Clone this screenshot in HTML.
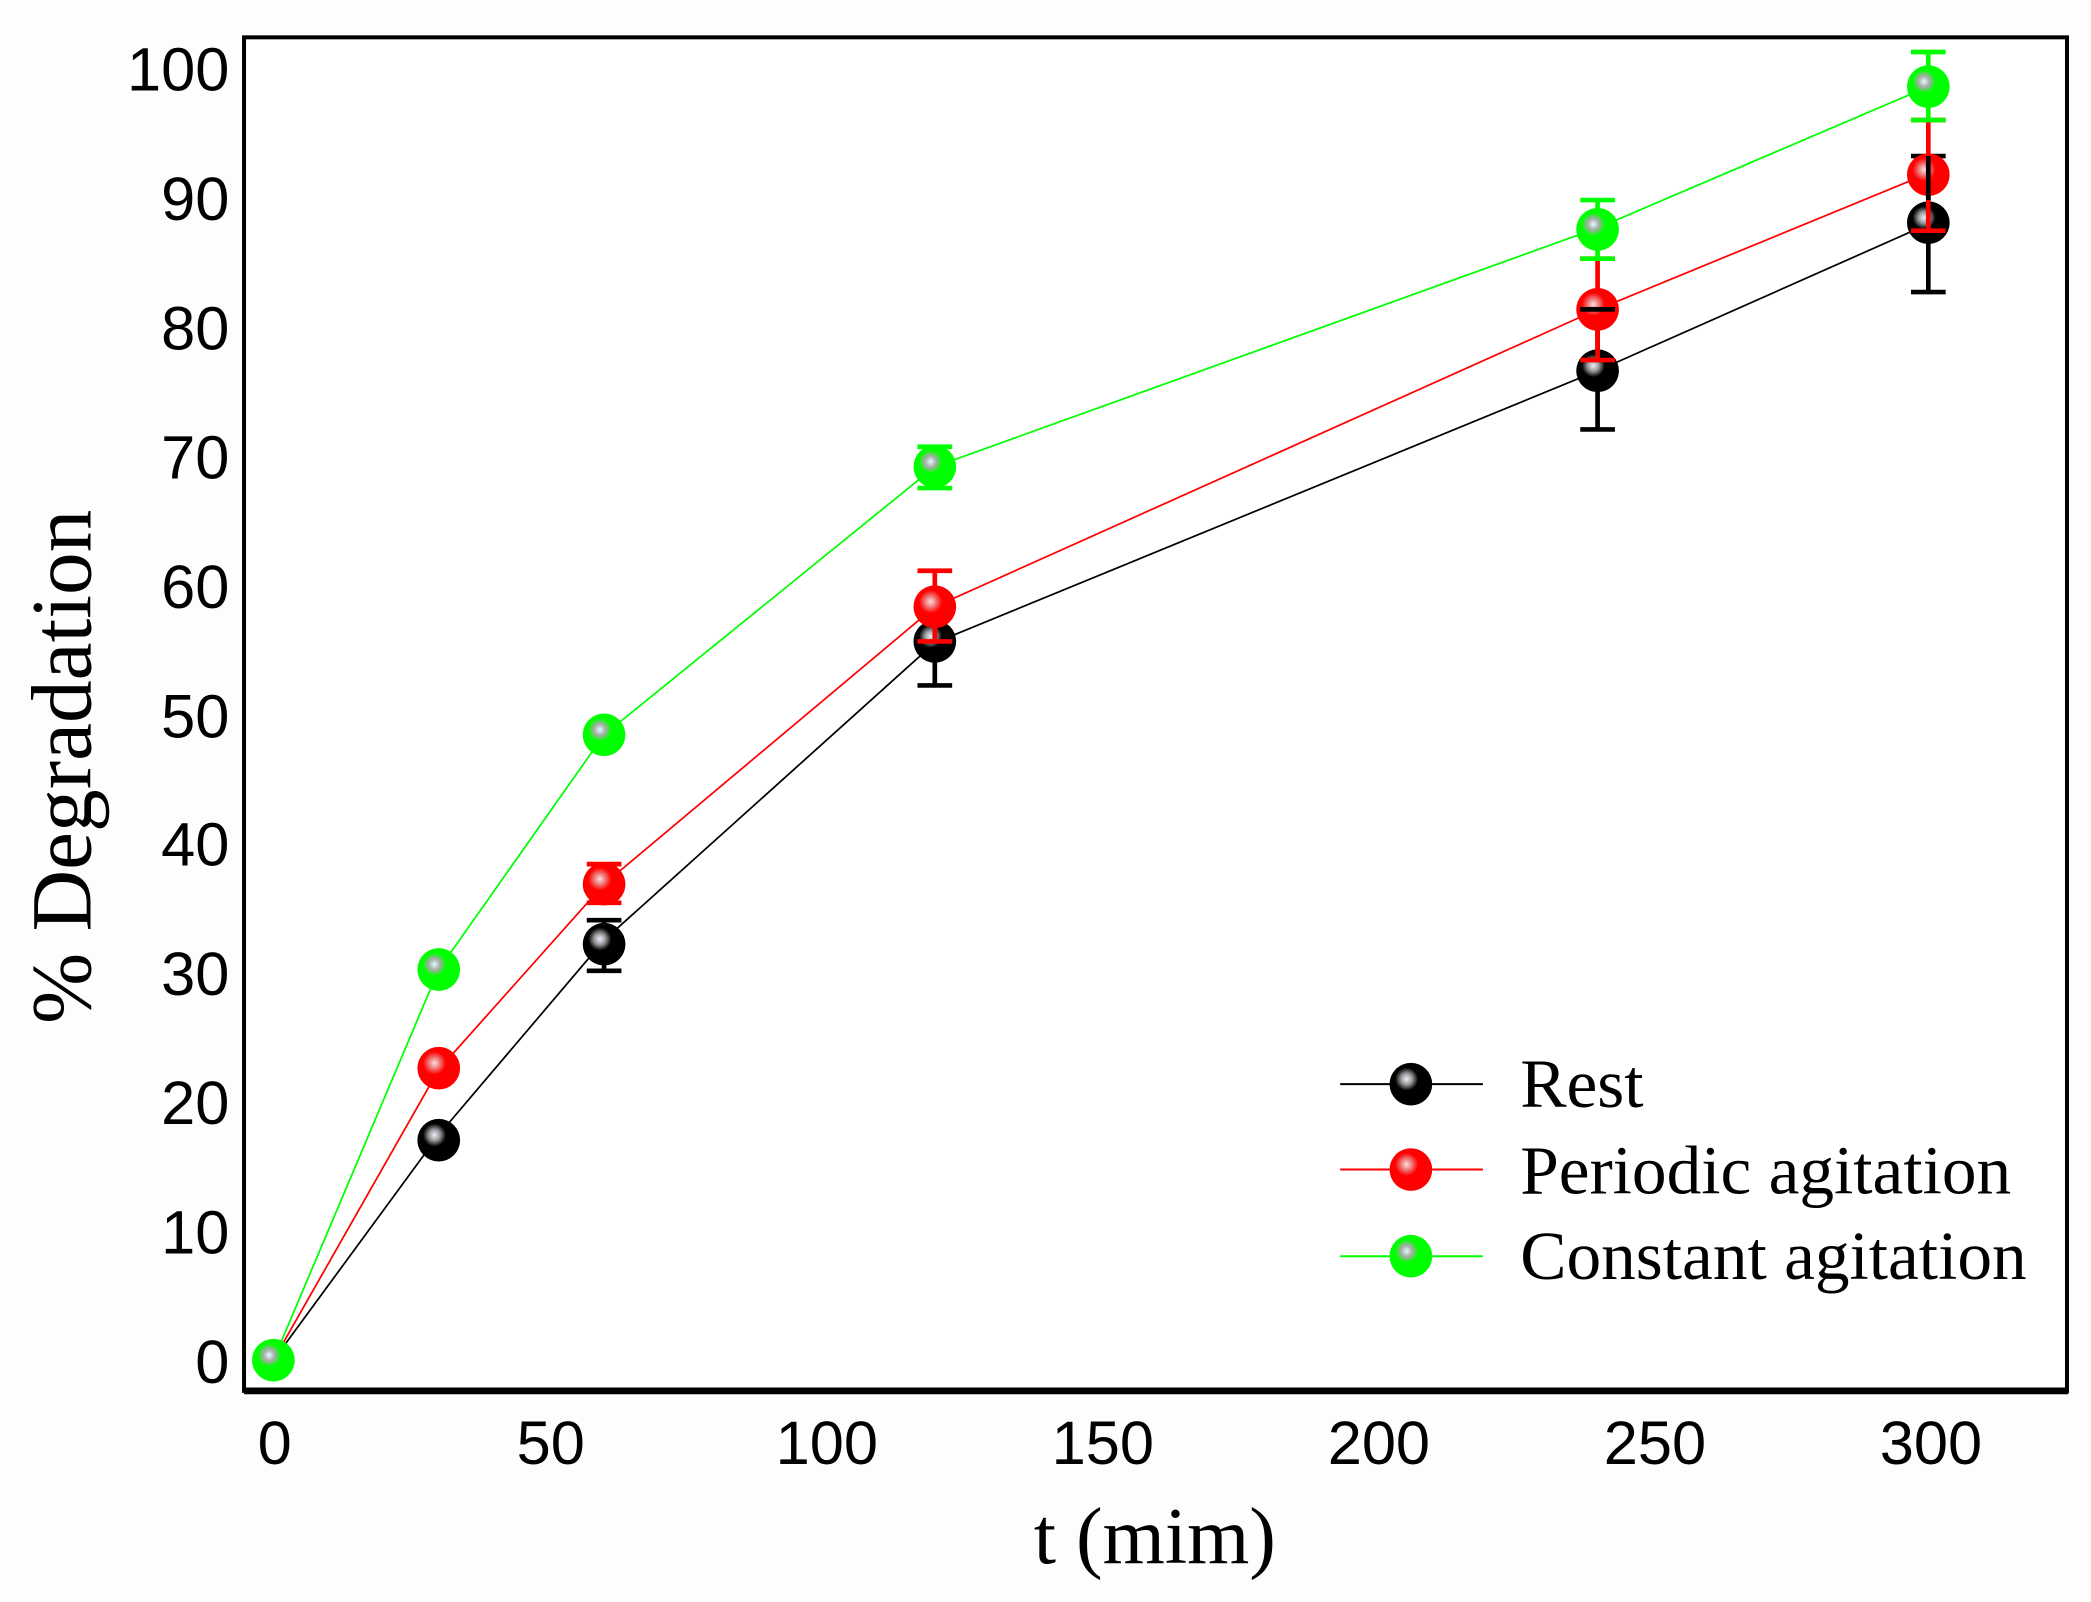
<!DOCTYPE html>
<html><head><meta charset="utf-8"><style>
html,body{margin:0;padding:0;background:#fdfdfb;}
svg{display:block;}
</style></head><body>
<svg width="2091" height="1602" viewBox="0 0 1568 1201.3" xmlns="http://www.w3.org/2000/svg">
<defs>
<radialGradient id="gk" cx="0.4" cy="0.38" r="0.6"><stop offset="0" stop-color="#eef"/><stop offset="0.22" stop-color="#999"/><stop offset="0.45" stop-color="#000"/><stop offset="1" stop-color="#000"/></radialGradient>
<radialGradient id="gr" cx="0.4" cy="0.38" r="0.6"><stop offset="0" stop-color="#fdd"/><stop offset="0.22" stop-color="#e77"/><stop offset="0.45" stop-color="#f00"/><stop offset="1" stop-color="#f00"/></radialGradient>
<radialGradient id="gg" cx="0.4" cy="0.38" r="0.6"><stop offset="0" stop-color="#dff"/><stop offset="0.22" stop-color="#aaa"/><stop offset="0.45" stop-color="#0f0"/><stop offset="1" stop-color="#0f0"/></radialGradient>
</defs>
<rect width="1568" height="1202" fill="#fdfdfb"/>
<rect x="183" y="28" width="1367" height="1015" fill="#fff" stroke="#000" stroke-width="3"/>
<line x1="183" y1="1043" x2="1551" y2="1043" stroke="#000" stroke-width="5"/>
<g font-family="Liberation Sans, sans-serif" font-size="46" fill="#000" text-anchor="end">
<text x="172" y="68">100</text><text x="172" y="165">90</text><text x="172" y="262">80</text><text x="172" y="359">70</text><text x="172" y="456">60</text><text x="172" y="553">50</text><text x="172" y="649">40</text><text x="172" y="746">30</text><text x="172" y="843">20</text><text x="172" y="940">10</text><text x="172" y="1037">0</text>
</g>
<g font-family="Liberation Sans, sans-serif" font-size="46" fill="#000" text-anchor="middle">
<text x="206" y="1098">0</text><text x="413" y="1098">50</text><text x="620" y="1098">100</text><text x="827" y="1098">150</text><text x="1034" y="1098">200</text><text x="1241" y="1098">250</text><text x="1448" y="1098">300</text>
</g>
<text x="866" y="1172" font-family="Liberation Serif, serif" font-size="60" text-anchor="middle">t (mim)</text>
<text transform="translate(68,575) rotate(-90)" font-family="Liberation Serif, serif" font-size="64" text-anchor="middle">% Degradation</text>
<g fill="none" stroke-width="1.3">
<polyline stroke="#000" points="205,1020 329,851 453,705 701,482 1198,278 1446,168"/>
<polyline stroke="#f00" points="205,1020 329,802 453,663 701,455 1198,232 1446,130"/>
<polyline stroke="#0f0" points="205,1020 329,727 453,551 701,350 1198,171 1446,65"/>
</g>
<g stroke-width="3.5">
<g stroke="#000"><line x1="453" y1="690" x2="453" y2="728"/><line x1="440" y1="690" x2="466" y2="690"/><line x1="440" y1="728" x2="466" y2="728"/>
<line x1="701" y1="449" x2="701" y2="514"/><line x1="688" y1="449" x2="714" y2="449"/><line x1="688" y1="514" x2="714" y2="514"/>
<line x1="1198" y1="232" x2="1198" y2="322"/><line x1="1185" y1="232" x2="1211" y2="232"/><line x1="1185" y1="322" x2="1211" y2="322"/>
<line x1="1446" y1="117" x2="1446" y2="219"/><line x1="1433" y1="117" x2="1459" y2="117"/><line x1="1433" y1="219" x2="1459" y2="219"/></g>
</g>
<circle cx="329" cy="855" r="16" fill="url(#gk)"/><circle cx="453" cy="708" r="16" fill="url(#gk)"/><circle cx="701" cy="481" r="16" fill="url(#gk)"/><circle cx="1198" cy="278" r="16" fill="url(#gk)"/><circle cx="1446" cy="167" r="16" fill="url(#gk)"/>
<g stroke-width="3.5" stroke="#f00">
<line x1="453" y1="648" x2="453" y2="677"/><line x1="440" y1="648" x2="466" y2="648"/><line x1="440" y1="677" x2="466" y2="677"/>
<line x1="701" y1="428" x2="701" y2="481"/><line x1="688" y1="428" x2="714" y2="428"/><line x1="688" y1="481" x2="714" y2="481"/>
<line x1="1198" y1="194" x2="1198" y2="270"/><line x1="1185" y1="194" x2="1211" y2="194"/><line x1="1185" y1="270" x2="1211" y2="270"/>
<line x1="1446" y1="90" x2="1446" y2="173"/><line x1="1433" y1="90" x2="1459" y2="90"/><line x1="1433" y1="173" x2="1459" y2="173"/>
</g>
<circle cx="329" cy="801" r="16" fill="url(#gr)"/><circle cx="453" cy="663" r="16" fill="url(#gr)"/><circle cx="701" cy="455" r="16" fill="url(#gr)"/><circle cx="1198" cy="232" r="16" fill="url(#gr)"/><circle cx="1446" cy="131" r="16" fill="url(#gr)"/>
<g stroke="#000" stroke-width="3.5"><line x1="1185" y1="232" x2="1211" y2="232"/><line x1="1446" y1="117" x2="1446" y2="150"/></g>
<g stroke-width="3.5" stroke="#0f0">
<line x1="701" y1="335" x2="701" y2="366"/><line x1="688" y1="335" x2="714" y2="335"/><line x1="688" y1="366" x2="714" y2="366"/>
<line x1="1198" y1="150" x2="1198" y2="194"/><line x1="1185" y1="150" x2="1211" y2="150"/><line x1="1185" y1="194" x2="1211" y2="194"/>
<line x1="1446" y1="39" x2="1446" y2="90"/><line x1="1433" y1="39" x2="1459" y2="39"/><line x1="1433" y1="90" x2="1459" y2="90"/>
</g>
<circle cx="205" cy="1020" r="16" fill="url(#gg)"/><circle cx="329" cy="727" r="16" fill="url(#gg)"/><circle cx="453" cy="551" r="16" fill="url(#gg)"/><circle cx="701" cy="350" r="16" fill="url(#gg)"/><circle cx="1198" cy="172" r="16" fill="url(#gg)"/><circle cx="1446" cy="65" r="16" fill="url(#gg)"/>
<g stroke-width="1.5"><line x1="1005" y1="813" x2="1112" y2="813" stroke="#000"/><line x1="1005" y1="877" x2="1112" y2="877" stroke="#f00"/><line x1="1005" y1="942" x2="1112" y2="942" stroke="#0f0"/></g>
<circle cx="1058" cy="813" r="16" fill="url(#gk)"/><circle cx="1058" cy="877" r="16" fill="url(#gr)"/><circle cx="1058" cy="942" r="16" fill="url(#gg)"/>
<g font-family="Liberation Serif, serif" font-size="52" fill="#000">
<text x="1140" y="830">Rest</text><text x="1140" y="895">Periodic agitation</text><text x="1140" y="959">Constant agitation</text>
</g>
</svg>
</body></html>
